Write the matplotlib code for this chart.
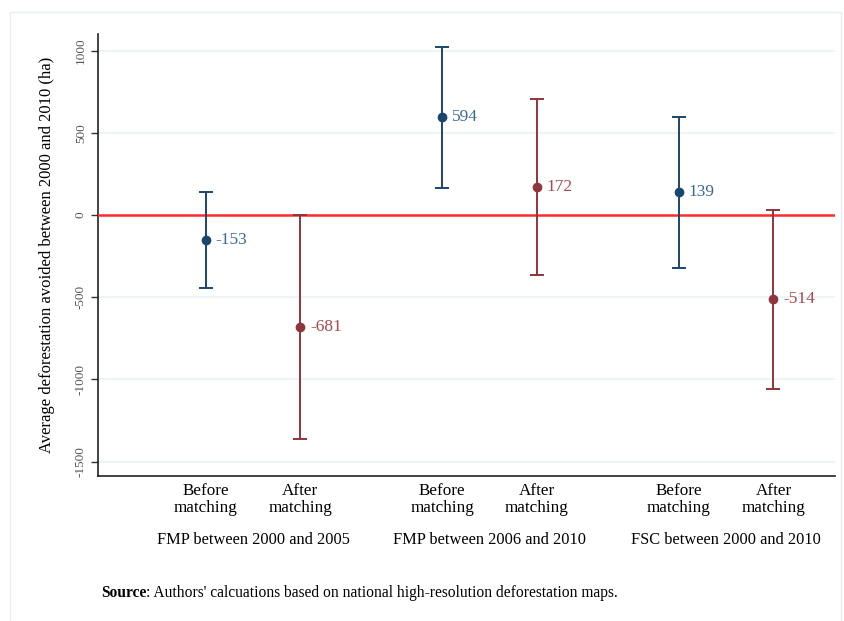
import numpy as np
import matplotlib.pyplot as plt
from matplotlib.patches import Rectangle
import matplotlib.transforms as mtransforms

# 数据：点估计与置信区间
xpos = [1, 2, 3.5, 4.5, 6, 7]
est = [-153, -681, 594, 172, 139, -514]
ci_low = [-445, -1360, 165, -366, -323, -1061]
ci_high = [140, 0, 1025, 708, 598, 30]
kind = ['before', 'after', 'before', 'after', 'before', 'after']
tick_labels = ['Before\nmatching', 'After\nmatching'] * 3
groups = ['FMP between 2000 and 2005', 'FMP between 2006 and 2010',
          'FSC between 2000 and 2010']
group_x = [1.5, 4, 6.5]
yticks = [-1500, -1000, -500, 0, 500, 1000]

navy = '#1a476f'
maroon = '#90353b'
lab_col = {'before': '#3b6a96', 'after': '#a8474d'}
col = {'before': navy, 'after': maroon}

plt.rcParams['font.family'] = ['Liberation Serif', 'DejaVu Serif']

fig = plt.figure(figsize=(8.44, 6.21), dpi=100)
# 外框
fig.patches.append(Rectangle((0.012, -0.01), 0.985, 0.99, transform=fig.transFigure,
                             fill=False, edgecolor='#e6eef0', linewidth=1))
ax = fig.add_axes([0.1161, 0.2335, 0.8732, 0.7117])

for y in yticks:
    if y != 0:
        ax.axhline(y, color='#eaf2f3', linewidth=1.2, zorder=0)
ax.axhline(0, color='#ff2a2a', linewidth=1.8, zorder=3)

for x, e, lo, hi, k in zip(xpos, est, ci_low, ci_high, kind):
    ax.errorbar(x, e, yerr=[[e - lo], [hi - e]], fmt='o', color=col[k],
                ecolor=col[k], elinewidth=1.4, capsize=5, capthick=1.4,
                markersize=6, zorder=4)
    ax.annotate(str(e), (x, e), xytext=(7, 0), textcoords='offset points',
                va='center', ha='left', fontsize=12.5, color=lab_col[k])

ax.set_xlim(-0.14, 7.65)
ax.set_ylim(-1588, 1101)
ax.set_xticks(xpos)
ax.set_xticklabels(tick_labels, fontsize=12.3, linespacing=1.05)
ax.tick_params(axis='x', length=0, pad=5)
ax.set_yticks(yticks)
ax.set_yticklabels([str(v) for v in yticks], rotation=90, va='center',
                   fontsize=9.5, color='#555555')
ax.tick_params(axis='y', length=5, width=1, color='#333333', pad=3)
ax.set_ylabel('Average deforestation avoided between 2000 and 2010 (ha)',
              fontsize=12, labelpad=14)

for s in ['top', 'right']:
    ax.spines[s].set_visible(False)
for s in ['left', 'bottom']:
    ax.spines[s].set_color('#222222')
    ax.spines[s].set_linewidth(1.2)

trans = mtransforms.blended_transform_factory(ax.transData, fig.transFigure)
for gx, g in zip(group_x, groups):
    ax.text(gx, 1 - 540 / 621, g, transform=trans, ha='center', va='center',
            fontsize=11.8)

src_y = 1 - 593 / 621
t = fig.text(101 / 844, src_y, 'Source', fontsize=11.2, va='center',
             fontweight='bold')
fig.canvas.draw()
bb = t.get_window_extent().transformed(fig.transFigure.inverted())
fig.text(bb.x1, src_y,
         ": Authors' calcuations based on national high-resolution deforestation maps.",
         fontsize=11.2, va='center')

fig.savefig('out.png', dpi=100)
